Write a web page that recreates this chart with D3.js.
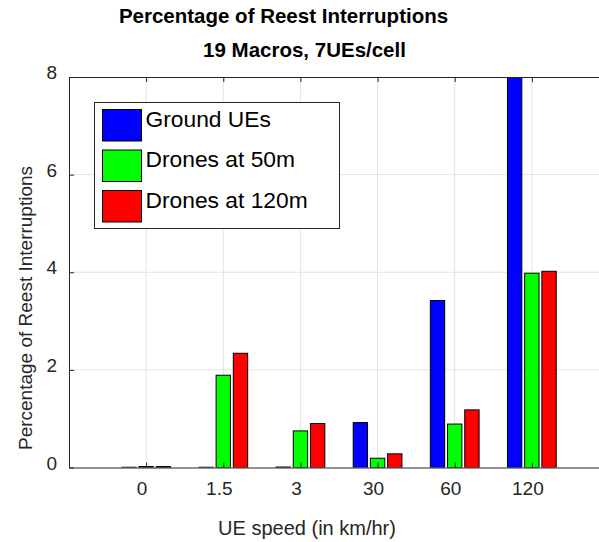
<!DOCTYPE html>
<html>
<head>
<meta charset="utf-8">
<script src="https://cdn.jsdelivr.net/npm/d3@7"></script>
<style>
  html, body { margin: 0; padding: 0; background: #fff; }
  svg { display: block; font-family: "Liberation Sans", Arial, sans-serif; }
</style>
</head>
<body>
<svg id="chart" width="599" height="542"></svg>
<script>
// Speeds (km/hr) shown along the x axis
const speeds = ["0", "1.5", "3", "30", "60", "120"];
// Series names and fills
const seriesNames = ["Ground UEs", "Drones at 50m", "Drones at 120m"];
const seriesColors = ["#0000ff", "#00ff00", "#ff0000"];
// Percentage of re-establishment interruptions per speed
const groundUEs   = [0.005, 0.005, 0.01, 0.92, 3.42, 8.3];
const drones50m   = [0.02, 1.89, 0.75, 0.19, 0.89, 3.98];
const drones120m  = [0.02, 2.34, 0.90, 0.28, 1.18, 4.02];
const yTicks = [0, 2, 4, 6, 8];

const series = [groundUEs, drones50m, drones120m];

const svg = d3.select("#chart");

const plotL = 69, plotR = 609, plotT = 77, plotB = 467.5;

// x runs over slot indices; speeds sit at slots 1..6
const x = d3.scaleLinear().domain([0, 7]).range([plotL, plotR]);
const y = d3.scaleLinear().domain([0, 8]).range([plotB, plotT]);

const groupStep = 0.223;   // distance between bars of one group (slot units)
const barW = 0.186;        // bar width (slot units)

// clip for the plotting area
svg.append("defs").append("clipPath").attr("id", "plotClip")
  .append("rect").attr("x", plotL).attr("y", plotT)
  .attr("width", plotR - plotL).attr("height", plotB - plotT);

// grid
const grid = svg.append("g");
grid.selectAll("line.gx").data(speeds).join("line")
  .attr("x1", (d, i) => x(i + 1)).attr("x2", (d, i) => x(i + 1))
  .attr("y1", plotT).attr("y2", plotB)
  .attr("stroke", "#e3e3e3").attr("stroke-width", 1);
grid.selectAll("line.gy").data(yTicks.slice(1, -1)).join("line")
  .attr("x1", plotL).attr("x2", plotR)
  .attr("y1", d => y(d)).attr("y2", d => y(d))
  .attr("stroke", "#e3e3e3").attr("stroke-width", 1);

// bars
const bars = svg.append("g").attr("clip-path", "url(#plotClip)");
series.forEach((vals, s) => {
  bars.selectAll("rect.s" + s).data(vals).join("rect")
    .attr("class", "s" + s)
    .attr("x", (d, i) => x(i + 1 + (s - 1) * groupStep - barW / 2))
    .attr("width", x(barW) - x(0))
    .attr("y", d => y(d))
    .attr("height", d => y(0) - y(d))
    .attr("fill", seriesColors[s])
    .attr("stroke", "#000").attr("stroke-width", 1);
});

// axes (box style, ticks pointing inward)
const axisColor = "#262626";
const xAxisB = d3.axisBottom(x).tickValues(d3.range(1, 7)).tickSizeInner(-5).tickSizeOuter(0).tickFormat("");
const xAxisT = d3.axisTop(x).tickValues(d3.range(1, 7)).tickSizeInner(-5).tickSizeOuter(0).tickFormat("");
const yAxisL = d3.axisLeft(y).tickValues(yTicks).tickSizeInner(-5).tickSizeOuter(0).tickFormat("");

[svg.append("g").attr("transform", `translate(0,${plotB})`).call(xAxisB),
 svg.append("g").attr("transform", `translate(0,${plotT})`).call(xAxisT),
 svg.append("g").attr("transform", `translate(${plotL},0)`).call(yAxisL)]
  .forEach(g => {
    g.selectAll("path, line").attr("stroke", axisColor);
  });

// tick labels
svg.append("g").selectAll("text").data(speeds).join("text")
  .attr("x", (d, i) => x(i + 1) - 4).attr("y", 495)
  .attr("text-anchor", "middle").attr("font-size", 19).attr("fill", "#262626")
  .text(d => d);
svg.append("g").selectAll("text").data(yTicks).join("text")
  .attr("x", 57).attr("y", d => y(d) + 2)
  .attr("text-anchor", "end").attr("font-size", 19).attr("fill", "#262626")
  .text(d => d);

// axis titles
svg.append("text").attr("x", 307).attr("y", 535)
  .attr("text-anchor", "middle").attr("font-size", 20).attr("fill", "#262626")
  .text("UE speed (in km/hr)");
svg.append("text").attr("transform", "translate(32,308) rotate(-90)")
  .attr("text-anchor", "middle").attr("font-size", 19).attr("fill", "#262626")
  .text("Percentage of Reest Interruptions");

// title
svg.append("text").attr("x", 283.5).attr("y", 23)
  .attr("text-anchor", "middle").attr("font-size", 20.5).attr("font-weight", "bold")
  .text("Percentage of Reest Interruptions");
svg.append("text").attr("x", 304.5).attr("y", 57)
  .attr("text-anchor", "middle").attr("font-size", 20.5).attr("font-weight", "bold")
  .text("19 Macros, 7UEs/cell");

// legend
const lg = svg.append("g");
lg.append("rect").attr("x", 94.5).attr("y", 102.5).attr("width", 245).attr("height", 126)
  .attr("fill", "#fff").attr("stroke", "#262626").attr("stroke-width", 1);
const rows = lg.selectAll("g.row").data(seriesNames).join("g")
  .attr("transform", (d, i) => `translate(0,${109 + i * 40.5})`);
rows.append("rect").attr("x", 102.5).attr("y", 0.5).attr("width", 39).attr("height", 31.5)
  .attr("fill", (d, i) => seriesColors[i]).attr("stroke", "#000").attr("stroke-width", 1);
rows.append("text").attr("x", 145.5).attr("y", 17.5)
  .attr("font-size", 22.8).attr("fill", "#000")
  .text(d => d);
</script>
</body>
</html>
